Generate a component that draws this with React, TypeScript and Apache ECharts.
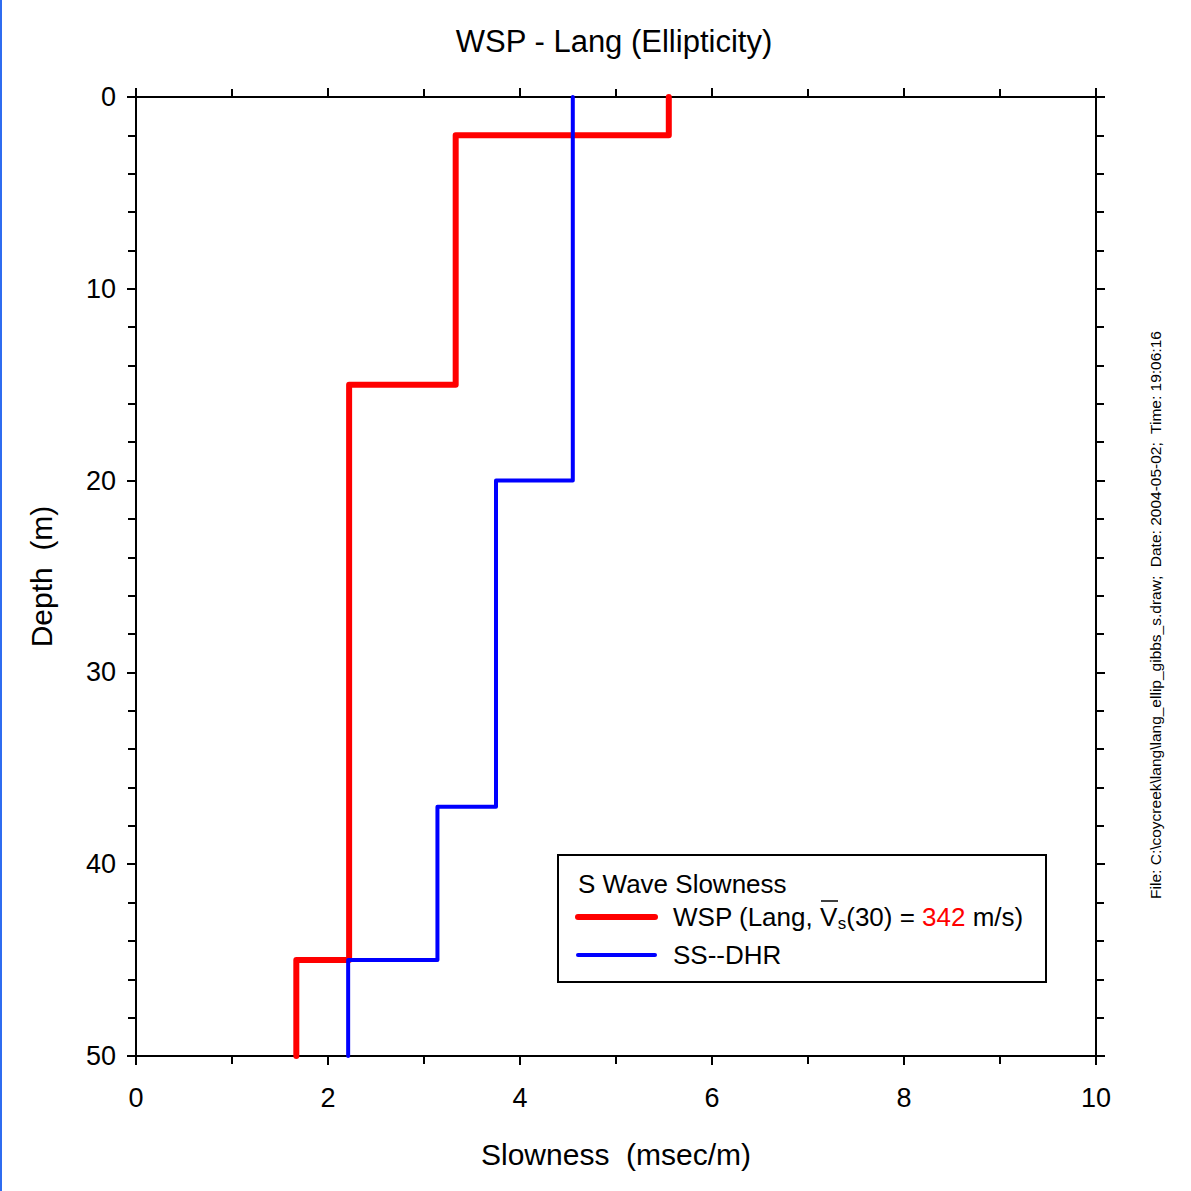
import React, { useEffect, useRef } from "react";
import * as echarts from "echarts";

// Layer boundaries (m) and slowness values (msec/m)
const wspDepths = [0, 2, 15, 45, 50];
const wspSlowness = [5.55, 3.33, 2.22, 1.67];
const dhrDepths = [0, 20, 37, 45, 50];
const dhrSlowness = [4.55, 3.75, 3.14, 2.21];

const xTicks = [0, 2, 4, 6, 8, 10];
const yTicks = [0, 10, 20, 30, 40, 50];

const titleText = "WSP - Lang (Ellipticity)";
const xName = "Slowness  (msec/m)";
const yName = "Depth  (m)";
const legendTitle = "S Wave Slowness";
const vs30 = "342";
const fileNote = "File: C:\\coycreek\\lang\\lang_ellip_gibbs_s.draw;  Date: 2004-05-02;  Time: 19:06:16";

function stepPoints(depths: number[], vals: number[]) {
  const pts: number[][] = [];
  for (let i = 0; i < vals.length; i++) {
    pts.push([vals[i], depths[i]]);
    pts.push([vals[i], depths[i + 1]]);
  }
  return pts;
}

const FONT = "Liberation Sans, Arial, sans-serif";

export default function App() {
  const ref = useRef<HTMLDivElement>(null);
  useEffect(() => {
    if (!ref.current) return;
    const chart = echarts.init(ref.current, undefined, { renderer: "svg" });
    const axisCommon = {
      axisLine: { show: true, onZero: false, lineStyle: { color: "#000", width: 2 } },
      axisTick: { show: true, inside: false, length: 9, lineStyle: { color: "#000", width: 2 } },
      minorTick: { show: true, length: 8, lineStyle: { color: "#000", width: 2 } },
      splitLine: { show: false },
    };
    chart.setOption({
      animation: false,
      backgroundColor: "#fff",
      textStyle: { fontFamily: FONT },
      graphic: [
        { type: "rect", left: 0, top: 0, shape: { width: 2, height: 1191 }, style: { fill: "#2f6cf0" } },
        {
          type: "text",
          x: 614,
          y: 41,
          style: { text: titleText, font: `31px ${FONT}`, fill: "#000", align: "center", verticalAlign: "middle" },
        },
        {
          type: "rect",
          shape: { x: 558, y: 855, width: 488, height: 127 },
          style: { fill: "#fff", stroke: "#000", lineWidth: 2 },
          z: 10,
        },
        {
          type: "text",
          x: 578,
          y: 884,
          style: { text: legendTitle, font: `26px ${FONT}`, fill: "#000", verticalAlign: "middle" },
          z: 11,
        },
        {
          type: "line",
          shape: { x1: 578, y1: 917, x2: 655, y2: 917 },
          style: { stroke: "#ff0000", lineWidth: 6, lineCap: "round" },
          z: 11,
        },
        {
          type: "line",
          shape: { x1: 578, y1: 955, x2: 655, y2: 955 },
          style: { stroke: "#0000ff", lineWidth: 4, lineCap: "round" },
          z: 11,
        },
        {
          type: "text",
          x: 673,
          y: 917,
          style: {
            text: "{n|WSP (Lang, V}{s|s}{n|(30) = }{r|" + vs30 + "}{n| m/s)}",
            verticalAlign: "middle",
            rich: {
              n: { font: `26px ${FONT}`, fill: "#000", lineHeight: 30 },
              s: { font: `17px ${FONT}`, fill: "#000", lineHeight: 30, padding: [12, 0, 0, 0] },
              r: { font: `26px ${FONT}`, fill: "#ff0000", lineHeight: 30 },
            },
          },
          z: 11,
        },
        {
          type: "line",
          shape: { x1: 821, y1: 901, x2: 838, y2: 901 },
          style: { stroke: "#000", lineWidth: 1.5 },
          z: 11,
        },
        {
          type: "text",
          x: 673,
          y: 955,
          style: { text: "SS--DHR", font: `26px ${FONT}`, fill: "#000", verticalAlign: "middle" },
          z: 11,
        },
        {
          type: "text",
          x: 1155,
          y: 615,
          rotation: Math.PI / 2,
          style: { text: fileNote, font: `15.5px ${FONT}`, fill: "#000", align: "center", verticalAlign: "middle" },
        },
      ],
      grid: { left: 136, top: 97, width: 960, height: 959 },
      xAxis: [
        {
          type: "value",
          position: "bottom",
          min: 0,
          max: 10,
          interval: 2,
          ...axisCommon,
          minorTick: { ...axisCommon.minorTick, splitNumber: 2 },
          axisLabel: { fontFamily: FONT, fontSize: 27, color: "#000", margin: 28, formatter: (v: number) => (xTicks.includes(v) ? String(v) : "") },
          name: xName,
          nameLocation: "middle",
          nameGap: 83,
          nameTextStyle: { fontFamily: FONT, fontSize: 30, color: "#000" },
        },
        {
          type: "value",
          position: "top",
          min: 0,
          max: 10,
          interval: 2,
          ...axisCommon,
          minorTick: { ...axisCommon.minorTick, splitNumber: 2 },
          axisLabel: { show: false },
        },
      ],
      yAxis: [
        {
          type: "value",
          position: "left",
          inverse: true,
          min: 0,
          max: 50,
          interval: 10,
          ...axisCommon,
          minorTick: { ...axisCommon.minorTick, splitNumber: 5 },
          axisLabel: { fontFamily: FONT, fontSize: 27, color: "#000", margin: 20, formatter: (v: number) => (yTicks.includes(v) ? String(v) : "") },
          name: yName,
          nameLocation: "middle",
          nameGap: 80,
          nameRotate: 90,
          nameTextStyle: { fontFamily: FONT, fontSize: 30, color: "#000" },
        },
        {
          type: "value",
          position: "right",
          inverse: true,
          min: 0,
          max: 50,
          interval: 10,
          ...axisCommon,
          minorTick: { ...axisCommon.minorTick, splitNumber: 5 },
          axisLabel: { show: false },
        },
      ],
      series: [
        {
          name: "WSP",
          type: "line",
          xAxisIndex: 0,
          yAxisIndex: 0,
          data: stepPoints(wspDepths, wspSlowness),
          showSymbol: false,
          symbol: "none",
          lineStyle: { color: "#ff0000", width: 6, cap: "round", join: "round" },
          z: 2,
        },
        {
          name: "SS--DHR",
          type: "line",
          xAxisIndex: 0,
          yAxisIndex: 0,
          data: stepPoints(dhrDepths, dhrSlowness),
          showSymbol: false,
          symbol: "none",
          lineStyle: { color: "#0000ff", width: 4, cap: "round", join: "round" },
          z: 3,
        },
      ],
    });
    return () => chart.dispose();
  }, []);
  return <div ref={ref} style={{ position: "absolute", left: 0, top: 0, width: 1191, height: 1191 }} />;
}
